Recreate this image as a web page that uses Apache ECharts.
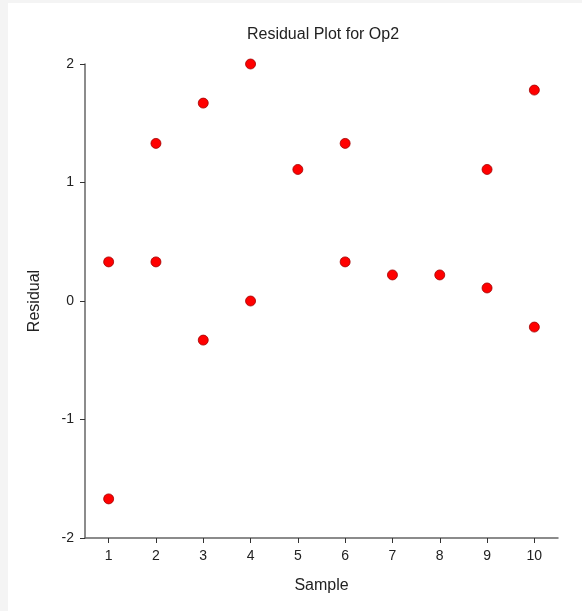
<!DOCTYPE html>
<html>
<head>
<meta charset="utf-8">
<script src="https://cdn.jsdelivr.net/npm/echarts@6/dist/echarts.min.js"></script>
<style>
  html, body { margin: 0; padding: 0; background: #f4f4f4; }
  #chart { position: absolute; left: 8px; top: 3px; width: 574px; height: 608px; background: #fff; }
</style>
</head>
<body>
<div id="chart"></div>
<script>
// sample categories on the x axis
const categories = ["1", "2", "3", "4", "5", "6", "7", "8", "9", "10"];
// each point: which sample and its residual
const pointSample = ["1", "1", "2", "2", "3", "3", "4", "4", "5", "6", "6", "7", "8", "9", "9", "10", "10"];
const residuals = [0.33, -1.67, 1.33, 0.33, 1.67, -0.33, 2.0, 0.0, 1.11, 1.33, 0.33, 0.22, 0.22, 1.11, 0.11, 1.78, -0.22];
const yTicks = [-2, -1, 0, 1, 2];

let chartDom = document.getElementById("chart");
let myChart = echarts.init(chartDom);
let option;

const axisColor = "#666";
const textColor = "#222";
const fontFamily = "Liberation Sans, Arial, sans-serif";

option = {
  animation: false,
  title: {
    text: "Residual Plot for Op2",
    left: 310,
    top: 19,
    textAlign: "center",
    textStyle: { fontSize: 16, fontWeight: "normal", color: textColor, fontFamily }
  },
  grid: { left: 77, right: 24, top: 61, bottom: 73 },
  xAxis: {
    type: "category",
    data: categories,
    boundaryGap: true,
    name: "Sample",
    nameLocation: "middle",
    nameGap: 40,
    nameTextStyle: { fontSize: 16, color: textColor, fontFamily },
    axisLine: { show: true, onZero: false, lineStyle: { color: axisColor, width: 1.5 } },
    axisTick: { show: true, alignWithLabel: true, length: 5, lineStyle: { color: "#333" } },
    axisLabel: { fontSize: 14, color: textColor, margin: 11, fontFamily },
    splitLine: { show: false }
  },
  yAxis: {
    type: "value",
    min: yTicks[0],
    max: yTicks[yTicks.length - 1],
    interval: 1,
    name: "Residual",
    nameLocation: "middle",
    nameGap: 42,
    nameTextStyle: { fontSize: 16, color: textColor, fontFamily },
    axisLine: { show: true, lineStyle: { color: axisColor, width: 1.5 } },
    axisTick: { show: true, length: 5, lineStyle: { color: "#333" } },
    axisLabel: { fontSize: 14, color: textColor, margin: 11, fontFamily },
    splitLine: { show: false }
  },
  series: [
    {
      type: "scatter",
      data: pointSample.map((s, i) => [s, residuals[i]]),
      symbol: "circle",
      symbolSize: 10,
      itemStyle: { color: "#ff0000", borderColor: "#a00000", borderWidth: 0.8, opacity: 1 }
    }
  ]
};

option && myChart.setOption(option);
</script>
</body>
</html>
